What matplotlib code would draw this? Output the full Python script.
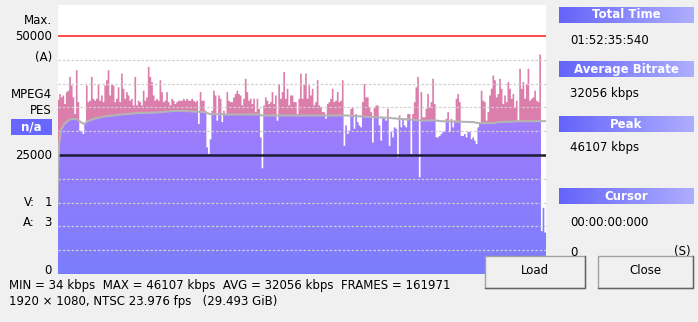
import numpy as np
import matplotlib.pyplot as plt
from matplotlib.colors import LinearSegmentedColormap
from matplotlib.patches import Polygon, Rectangle
from matplotlib.lines import Line2D

W, H = 698, 322

# bitrate per interval (kbps) left to right
bitrate_part1 = [36600, 37800, 37100, 37500, 35700, 38200, 38500, 41400, 39600, 37100,
                 33600, 42800, 36100, 30100, 29800, 29400, 31500, 39600, 36100, 36400,
                 41400, 36800, 36400, 36800, 39900, 36400, 37500, 36100, 39600, 40700,
                 42800, 37500, 39900, 39600, 36100, 36800, 39200, 36100, 42100, 38900,
                 36800, 38200, 37500, 36400, 36800, 35400, 41400, 35400, 36400, 36100,
                 35400, 38500, 36400, 37100, 43500, 41400, 40300, 37500, 36400, 36800,
                 36400, 40700, 38200, 36100, 36400, 38200, 36100, 35400, 36800, 36400,
                 35700, 36100, 36400]
bitrate_part2 = [36400, 36400, 36800, 36400, 36800, 36400, 36400, 36800, 36400, 36100,
                 36400, 31500, 38200, 36400, 36400, 34300, 26600, 25200, 28300, 34300,
                 38500, 37500, 32200, 37500, 36800, 31900, 34300, 33300, 38200, 36400,
                 36100, 36100, 37100, 37800, 38500, 37800, 37500, 35400, 36800, 41000,
                 38200, 36400, 36800, 35700, 36800, 34000, 36800, 34700, 28700, 22200,
                 35400, 37100, 36400, 35700, 36100, 38200, 35700, 37500, 32200, 39900,
                 36800, 38200, 42400, 36800, 38900, 35400, 37500, 37500, 36100, 36100,
                 33600, 36800, 42100]
bitrate_part3 = [36800, 39900, 42100, 36800, 39600, 37500, 38900, 35400, 36100, 40700,
                 35400, 35000, 34000, 34000, 32600, 35700, 36100, 36800, 38900, 36100,
                 36400, 38200, 36100, 36400, 40700, 26900, 31200, 29400, 30100, 34700,
                 35000, 30500, 33600, 31900, 31200, 30800, 36100, 39900, 37100, 37100,
                 35000, 34000, 27600, 35000, 35400, 35400, 31200, 28000, 32900, 32600,
                 32200, 34700, 26900, 29800, 28700, 30800, 30500, 24500, 33300, 30800,
                 32600, 31200, 30800, 33600, 33600, 25200, 33600, 36100, 39200, 41400,
                 20300, 38200, 32900]
bitrate_part4 = [32900, 34700, 37800, 35000, 36100, 41000, 35700, 28700, 28700, 29000,
                 29400, 29800, 30100, 32600, 34000, 29800, 32600, 30800, 32200, 36800,
                 37800, 36100, 29000, 29000, 29400, 28700, 29800, 29800, 28300, 28700,
                 28000, 27300, 30800, 31900, 38500, 36400, 36100, 32200, 34000, 37500,
                 38900, 41700, 40700, 37100, 37800, 41000, 38900, 35700, 37500, 36100,
                 40300, 38900, 36800, 37800, 35000, 36400, 32200, 43100, 38900, 40300,
                 36800, 39900, 43100, 36400, 36800, 37100, 38500, 36400, 36100, 46107,
                 9000, 13900, 8700]

# running average line (position in intervals, kbps)
avg_pos = [0, 0.4, 1, 2, 4, 7, 10, 12, 14, 16, 18, 22, 28, 38, 48, 58, 68, 72, 83, 88,
           91, 104, 121, 122, 146, 164, 172, 181, 192, 198, 204, 212, 219, 225, 229, 249,
           251, 261, 263, 277, 292]
avg_kbps = [14600, 23100, 27300, 30100, 31500, 32400, 32600, 32400, 31900, 31500,
            32100, 32600, 33100, 33500, 33800, 33900, 34200, 34300, 34100, 34000,
            33600, 33500, 33500, 33300, 33300, 33300, 33300, 33100, 32900, 32800,
            32600, 32400, 32200, 32300, 32100, 31900, 31700, 31700, 31900, 32100, 32100]

grid_kbps = [5000, 10000, 15000, 20000, 30000, 35000, 40000, 45000]
max_kbps = 50000
mid_kbps = 25000
top_kbps = 56500
cursor_marks = [288.4, 291.6]

side_headers = ["Total Time", "Average Bitrate", "Peak", "Cursor"]
side_values = ["01:52:35:540", "32056 kbps", "46107 kbps", "00:00:00:000"]
stats_line1 = "MIN = 34 kbps  MAX = 46107 kbps  AVG = 32056 kbps  FRAMES = 161971"
stats_line2 = "1920 \u00d7 1080, NTSC 23.976 fps   (29.493 GiB)"

plt.rcParams['font.family'] = ['DejaVu Sans']
plt.rcParams['font.size'] = 8.5


def fx(px):
    return px / W


def fy(py):
    return 1 - py / H


bitrate = np.array(bitrate_part1 + bitrate_part2 + bitrate_part3 + bitrate_part4)
n = len(bitrate)
edges = np.arange(n + 1)

fig = plt.figure(figsize=(W / 100, H / 100), dpi=100, facecolor='#f0f0f0')
ax = fig.add_axes([fx(57.5), fy(274), (546 - 57.5) / W, (274 - 5) / H])
ax.set_facecolor('white')

avg_pts = list(zip(avg_pos, avg_kbps))

# pink above the running average, purple gradient below it
ax.add_patch(Polygon(avg_pts + [(avg_pos[-1], top_kbps), (avg_pos[0], top_kbps)],
                     closed=True, facecolor='#dc7eab', edgecolor='none', zorder=1))
below = Polygon(avg_pts + [(avg_pos[-1], 0), (avg_pos[0], 0)], closed=True,
                transform=ax.transData, facecolor='none', edgecolor='none')
ax.add_patch(below)
purple = LinearSegmentedColormap.from_list('purp', ['#7a7efd', '#a47cfb'])
grad = np.linspace(0, 1, 256)[:, None]
im = ax.imshow(grad, extent=[0, n, 0, 36000], origin='lower', aspect='auto',
               cmap=purple, zorder=1.5)
im.set_clip_path(below)

# blank out everything above each bar
ax.stairs(np.full(n, top_kbps), edges, baseline=bitrate, fill=True,
          facecolor='white', edgecolor='none', zorder=2)

for g in grid_kbps:
    ax.axhline(g, color='#cfcfcf', lw=0.9, ls=(0, (2, 1.5)), zorder=3)
ax.axhline(max_kbps, color='#ff3b3b', lw=1.3, zorder=4)
ax.axhline(mid_kbps, color='#1c1c38', lw=1.8, zorder=4)
ax.plot(avg_pos, avg_kbps, color='#b4b4b4', lw=1.5, zorder=4)

ax.vlines(cursor_marks[0], 0, 1300, color='#ff2020', lw=1.5, zorder=5)
ax.vlines(cursor_marks[1], 0, 1300, color='#101010', lw=1.5, zorder=5)

ax.set_xlim(0, n)
ax.set_ylim(0, top_kbps)
ax.set_xticks([])
ax.set_yticks([])
for s in ax.spines.values():
    s.set_visible(False)

# left labels
rx = fx(52)
fig.text(rx, fy(21), "Max.", ha='right', va='center')
fig.text(rx, fy(36), "50000", ha='right', va='center')
fig.text(rx, fy(58), "(A)", ha='right', va='center')
fig.text(rx, fy(94), "MPEG4", ha='right', va='center')
fig.text(rx, fy(110), "PES", ha='right', va='center')
fig.add_artist(Rectangle((fx(11), fy(135)), 41 / W, 16 / H, transform=fig.transFigure,
                         facecolor='#6767ff', edgecolor='none'))
fig.text(fx(31.5), fy(127), "n/a", ha='center', va='center', color='white', fontweight='bold')
fig.text(rx, fy(155), "25000", ha='right', va='center')
fig.text(fx(35), fy(203), "V:", ha='right', va='center')
fig.text(rx, fy(203), "1", ha='right', va='center')
fig.text(fx(35), fy(222), "A:", ha='right', va='center')
fig.text(rx, fy(222), "3", ha='right', va='center')
fig.text(rx, fy(271), "0", ha='right', va='center')

# bottom info
fig.text(fx(9), fy(286), stats_line1, ha='left', va='center')
fig.text(fx(9), fy(302), stats_line2, ha='left', va='center')

# right panel
hdr = LinearSegmentedColormap.from_list('hdr', ['#6464fa', '#aeaeff'])
hdr_tops = [7, 61, 116, 188]
val_ys = [41, 93, 147, 222]
for label, top, value, vy in zip(side_headers, hdr_tops, side_values, val_ys):
    hax = fig.add_axes([fx(559), fy(top + 16), (694 - 559) / W, 16 / H])
    hax.imshow(np.linspace(0, 1, 256)[None, :], cmap=hdr, aspect='auto')
    hax.axis('off')
    hax.text(0.5, 0.5, label, transform=hax.transAxes, ha='center', va='center',
             color='white', fontweight='bold')
    fig.text(fx(570), fy(vy), value, ha='left', va='center')
fig.text(fx(570), fy(252), "0", ha='left', va='center')
fig.text(fx(691), fy(252), "(S)", ha='right', va='center')

# buttons
for bx0, bx1, label in [(485, 585, "Load"), (598, 693, "Close")]:
    fig.add_artist(Rectangle((fx(bx0), fy(288)), (bx1 - bx0) / W, 32 / H,
                             transform=fig.transFigure, facecolor='#f0f0f0',
                             edgecolor='#a0a0a0', lw=1))
    fig.add_artist(Line2D([fx(bx0), fx(bx1), fx(bx1)], [fy(288), fy(288), fy(256)],
                          transform=fig.transFigure, color='#646464', lw=1))
    fig.text(fx((bx0 + bx1) / 2), fy(271), label, ha='center', va='center')

fig.savefig('out.png', dpi=100, facecolor=fig.get_facecolor())
